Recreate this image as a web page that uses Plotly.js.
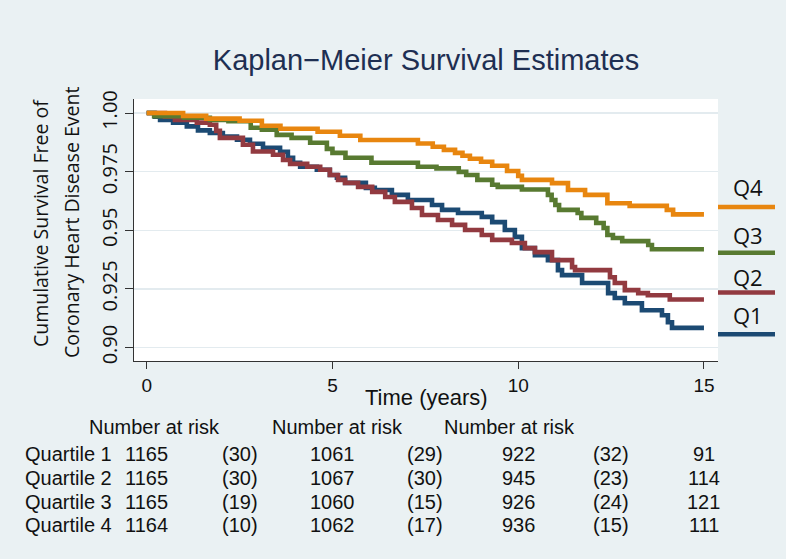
<!DOCTYPE html>
<html>
<head>
<meta charset="utf-8">
<script src="https://cdn.plot.ly/plotly-3.0.1.min.js"></script>
<style>
html,body{margin:0;padding:0;background:#eaf1f3;}
#chart{width:786px;height:559px;}
</style>
</head>
<body>
<div id="chart"></div>
<script>
// ---- Data ----
const timeQ1 = [0,0.22,0.36,0.71,1.08,1.38,1.70,2.05,2.43,2.78,3.13,3.59,3.80,3.94,4.13,4.58,4.93,5.12,5.34,5.90,6.14,6.60,7.03,7.68,7.95,8.38,9.02,9.30,9.64,9.91,10.10,10.45,10.80,11.07,11.18,11.72,12.42,12.60,12.87,13.33,13.87,14.03,14.14,15];
const survQ1 = [1,0.9984,0.9971,0.9959,0.9943,0.9926,0.9915,0.9900,0.9886,0.9869,0.9852,0.9835,0.9809,0.9788,0.9771,0.9758,0.9736,0.9724,0.9702,0.9681,0.9672,0.9651,0.9629,0.9608,0.9587,0.9574,0.9557,0.9535,0.9501,0.9472,0.9424,0.9394,0.9373,0.9330,0.9309,0.9275,0.9232,0.9211,0.9189,0.9159,0.9138,0.9108,0.9084,0.9084];

const timeQ2 = [0,0.49,0.76,1.35,1.70,1.87,1.97,2.59,2.86,3.40,3.67,3.86,4.32,4.67,4.93,5.15,5.34,5.69,6.07,6.42,6.68,7.14,7.41,7.84,8.22,8.57,9.02,9.30,9.83,10.18,10.45,10.91,11.45,11.53,12.47,12.60,12.87,13.23,13.49,14.08,15];
const survQ2 = [1,0.9984,0.9971,0.9959,0.9950,0.9924,0.9894,0.9865,0.9836,0.9822,0.9800,0.9783,0.9771,0.9758,0.9736,0.9715,0.9702,0.9685,0.9664,0.9642,0.9621,0.9595,0.9565,0.9544,0.9523,0.9501,0.9480,0.9459,0.9446,0.9424,0.9407,0.9373,0.9343,0.9330,0.9300,0.9275,0.9245,0.9232,0.9223,0.9205,0.9205];

const timeQ3 = [0,0.2,1.0,1.7,2.2,2.8,3.1,3.5,3.9,4.4,4.85,5.0,5.35,6.05,7.3,7.8,8.4,8.6,8.9,9.3,9.45,10.1,10.8,10.9,11.0,11.1,11.6,11.7,12.1,12.3,12.4,12.55,12.8,13.5,13.6,15];
const survQ3 = [1,0.9986,0.9980,0.9971,0.9965,0.9937,0.9929,0.9907,0.9894,0.9873,0.9847,0.9830,0.9809,0.9788,0.9771,0.9764,0.9749,0.9736,0.9715,0.9694,0.9685,0.9674,0.9651,0.9629,0.9608,0.9587,0.9574,0.9553,0.9531,0.9510,0.9480,0.9467,0.9454,0.9437,0.9419,0.9419];

const timeQ4 = [0,0.98,1.6,2.5,3.1,3.6,4.6,5.2,5.75,7.3,7.7,8.0,8.3,8.5,8.7,9.0,9.3,9.7,10.0,10.1,10.91,11.34,11.8,12.4,13.0,14.0,14.17,15];
const survQ4 = [1,0.9988,0.9976,0.9967,0.9946,0.9933,0.9920,0.9903,0.9885,0.9870,0.9856,0.9843,0.9830,0.9818,0.9805,0.9792,0.9775,0.9753,0.9732,0.9715,0.9701,0.9672,0.9651,0.9615,0.9604,0.9587,0.9568,0.9568];

const seriesNames = ["Q1","Q2","Q3","Q4"];
const rowLabels = ["Quartile 1","Quartile 2","Quartile 3","Quartile 4"];
const riskTimes = [0,5,10,15];
const censorTimes = [2.5,7.5,12.5];
const headerText = "Number at risk";
const atRiskQ1 = [1165,1061,922,91];
const atRiskQ2 = [1165,1067,945,114];
const atRiskQ3 = [1165,1060,926,121];
const atRiskQ4 = [1164,1062,936,111];
const censQ1 = [30,29,32];
const censQ2 = [30,30,23];
const censQ3 = [19,15,24];
const censQ4 = [10,17,15];
const xTicks = [0,5,10,15];
const yTicks = [0.90,0.925,0.95,0.975,1.00];
const yTickText = ["0.90","0.925","0.95","0.975","1.00"];

// ---- Styling / placement ----
const colors = ["#1c4a73","#923a40","#587a31","#e8860f"];
const bg = "#eaf1f3";
const headerPos = [-0.0805,0.2329,0.5274];
const times = [timeQ1,timeQ2,timeQ3,timeQ4];
const survs = [survQ1,survQ2,survQ3,survQ4];
const atRisk = [atRiskQ1,atRiskQ2,atRiskQ3,atRiskQ4];
const cens = [censQ1,censQ2,censQ3,censQ4];

const traces = times.map((t,i)=>({
  x: t, y: survs[i], type: "scatter", mode: "lines",
  line: {shape: "hv", color: colors[i], width: 4.6},
  name: seriesNames[i], showlegend: false, hoverinfo: "skip"
}));

const tableFont = {family: "Liberation Sans, Arial, sans-serif", size: 20, color: "#111"};
const ann = [];
// y-axis title (two lines)
ann.push({xref:"paper", yref:"paper", x:-0.159, y:0.527, text:"Cumulative Survival Free of", textangle:-90,
  showarrow:false, xanchor:"center", yanchor:"middle", font:{family:"Open Sans, DejaVu Sans, sans-serif", size:19.5, color:"#111"}});
ann.push({xref:"paper", yref:"paper", x:-0.106, y:0.527, text:"Coronary Heart Disease Event", textangle:-90,
  showarrow:false, xanchor:"center", yanchor:"middle", font:{family:"Open Sans, DejaVu Sans, sans-serif", size:19.5, color:"#111"}});
// x-axis title
ann.push({xref:"paper", yref:"paper", x:0.5, y:0, yshift:-36, text:"Time (years)", showarrow:false,
  xanchor:"center", yanchor:"middle", font:{family:"Liberation Sans, Arial, sans-serif", size:22, color:"#111"}});
// legend labels
const legY = [0.1748,0.3214,0.4809,0.6657];
const legLineY = [0.1021,0.2617,0.4132,0.588];
seriesNames.forEach((n,i)=>{
  ann.push({xref:"paper", yref:"paper", x:1.0514, y:legY[i], text:n, showarrow:false,
    xanchor:"center", yanchor:"middle", font:{family:"Open Sans, DejaVu Sans, sans-serif", size:22, color:"#111"}});
});
// risk table
headerPos.forEach(h=>{
  ann.push({xref:"paper", yref:"paper", x:h, y:0, yshift:-66, text:headerText, showarrow:false,
    xanchor:"left", yanchor:"middle", font:tableFont});
});
const rowShift = [-93,-117,-141,-164];
rowLabels.forEach((lab,r)=>{
  ann.push({xref:"paper", yref:"paper", x:-0.19, y:0, yshift:rowShift[r], text:lab, showarrow:false,
    xanchor:"left", yanchor:"middle", font:tableFont});
  riskTimes.forEach((t,k)=>{
    ann.push({xref:"x", yref:"paper", x:t, y:0, yshift:rowShift[r], text:String(atRisk[r][k]), showarrow:false,
      xanchor:"center", yanchor:"middle", font:tableFont});
  });
  censorTimes.forEach((t,k)=>{
    ann.push({xref:"x", yref:"paper", x:t, y:0, yshift:rowShift[r], text:"("+cens[r][k]+")", showarrow:false,
      xanchor:"center", yanchor:"middle", font:tableFont});
  });
});

const shapes = legLineY.map((y,i)=>({
  type:"line", xref:"paper", yref:"paper", x0:1.0, x1:1.0976, y0:y, y1:y,
  line:{color:colors[i], width:4.6}
}));

const layout = {
  width: 786, height: 559,
  paper_bgcolor: bg, plot_bgcolor: "#ffffff",
  margin: {l:134, r:68, t:99, b:198},
  title: {text:"Kaplan\u2212Meier Survival Estimates", x:0.5, xref:"paper", y:0.893, yref:"container",
    xanchor:"center", yanchor:"middle",
    font:{family:"Liberation Sans, Arial, sans-serif", size:29, color:"#1e2f52"}},
  xaxis: {range:[-0.342,15.378], tickvals:xTicks, ticktext:xTicks.map(String), ticks:"outside", ticklen:7,
    tickcolor:"#333", tickwidth:1, showline:true, linecolor:"#333", linewidth:1, showgrid:false, zeroline:false,
    tickfont:{family:"Liberation Sans, Arial, sans-serif", size:19, color:"#111"}},
  yaxis: {range:[0.89427,1.00598], tickvals:yTicks, ticktext:yTickText, ticks:"outside", ticklen:8,
    tickcolor:"#333", tickwidth:1, showline:true, linecolor:"#333", linewidth:1, showgrid:true,
    gridcolor:"#e3ebef", gridwidth:1.3, zeroline:false, tickangle:-90,
    tickfont:{family:"Open Sans, DejaVu Sans, sans-serif", size:20, color:"#111"}},
  annotations: ann, shapes: shapes, showlegend:false
};

Plotly.newPlot("chart", traces, layout, {displayModeBar:false, staticPlot:true});
</script>
</body>
</html>
